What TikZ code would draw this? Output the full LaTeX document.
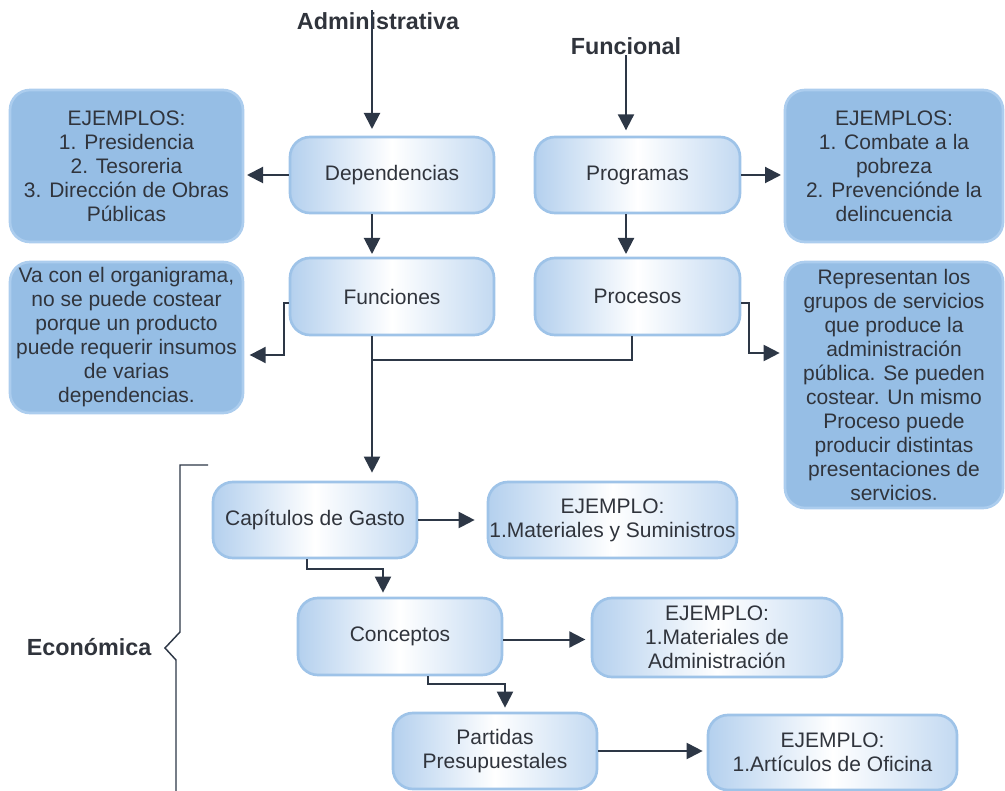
\documentclass[tikz,border=0pt]{standalone}
\usepackage{fontspec}
\setmainfont{Liberation Sans}
\usetikzlibrary{arrows.meta}

\definecolor{txtgray}{RGB}{48,52,60}
\definecolor{arrgray}{RGB}{45,55,70}
\definecolor{boxedge}{RGB}{158,195,232}
\definecolor{boxtint}{RGB}{180,208,238}
\definecolor{darkfill}{RGB}{150,190,229}
\definecolor{darkedge}{RGB}{172,205,238}

\tikzset{every picture/.style={line width=0.75pt}}
\tikzset{
  lbox/.style={draw=boxedge, line width=2pt, rounded corners=15pt, left color=boxtint, right color=boxtint!80, middle color=white, text=txtgray, inner sep=0pt, align=center, font=\fontsize{15.75}{18}\selectfont},
  dbox/.style={draw=darkedge, line width=2pt, rounded corners=15pt, fill=darkfill, text=txtgray, inner sep=0pt, align=center, font=\fontsize{15.75}{18}\selectfont},
  head/.style={text=txtgray, inner sep=0pt, font=\bfseries\fontsize{17.5}{20}\selectfont},
  arr/.style={draw=arrgray, line width=1.5pt, -{Triangle[length=12pt,width=12pt]}, shorten >=2pt},
  conn/.style={draw=arrgray, line width=1.5pt},
  bracket/.style={draw=arrgray, line width=1.1pt}
}

\begin{document}
\begin{tikzpicture}[x=0.75pt,y=0.75pt,yscale=-1,xscale=1]
\useasboundingbox (0,0) rectangle (1005,791);

% Text Node
\draw (378,21) node [head] (admin) {Administrativa};
% Text Node
\draw (626,46) node [head] (func) {Funcional};
% Text Node
\draw (89,647) node [head] (eco) {Económica};

%Rounded Rect: Administrativa column
\draw (392,175) node [lbox, minimum width=153pt, minimum height=57pt] (dep) {Dependencias};
\draw (392,296.5) node [lbox, minimum width=153pt, minimum height=57.75pt] (fun) {Funciones};
%Rounded Rect: Funcional column
\draw (637.5,175) node [lbox, minimum width=153.75pt, minimum height=57pt] (prog) {Programas};
\draw (637.5,296.5) node [lbox, minimum width=153.75pt, minimum height=57.75pt] (proc) {Procesos};

%Rounded Rect: notes
\draw (126.5,166) node [dbox, minimum width=174.75pt, minimum height=114pt] (ejadm) {EJEMPLOS:\\1. Presidencia\\2. Tesoreria\\3. Dirección de Obras\\Públicas};
\draw (126.5,337.5) node [dbox, minimum width=174.75pt, minimum height=113.25pt] (vacon) {Va con el organigrama,\\no se puede costear\\porque un producto\\puede requerir insumos\\de varias\\dependencias.};
\draw (894,166) node [dbox, minimum width=163.5pt, minimum height=114pt] (ejfun) {EJEMPLOS:\\1. Combate a la\\pobreza\\2. Prevenciónde la\\delincuencia};
\draw (894,385) node [dbox, minimum width=163.5pt, minimum height=184.5pt] (repr) {Representan los\\grupos de servicios\\que produce la\\administración\\pública. Se pueden\\costear. Un mismo\\Proceso puede\\producir distintas\\presentaciones de\\servicios.};

%Rounded Rect: Economica column
\draw (315,520) node [lbox, minimum width=153pt, minimum height=57pt] (cap) {Capítulos de Gasto};
\draw (612.5,520) node [lbox, minimum width=186.75pt, minimum height=57pt] (ejcap) {EJEMPLO:\\1.Materiales y Suministros};
\draw (400,636.5) node [lbox, minimum width=153pt, minimum height=57.75pt] (conc) {Conceptos};
\draw (717,637.5) node [lbox, minimum width=187.5pt, minimum height=59.25pt] (ejcon) {EJEMPLO:\\1.Materiales de\\Administración};
\draw (495,751) node [lbox, minimum width=153pt, minimum height=57pt] (part) {Partidas\\Presupuestales};
\draw (832.5,752.5) node [lbox, minimum width=186.75pt, minimum height=56.25pt] (ejpar) {EJEMPLO:\\1.Artículos de Oficina};

\coordinate (admtop) at (372,10);
\coordinate (jn) at (372,360);

%Straight Lines
\draw [arr, shorten >=5pt] (admtop) -- (admtop |- dep.north);
\draw [arr, shorten >=4pt] (func.south) -- (func.south |- prog.north);
\draw [arr] (dep.south -| admtop) -- (fun.north -| admtop);
\draw [arr] (prog.south -| func) -- (proc.north -| func);
\draw [arr] (dep.west) -- (dep.west -| ejadm.east);
\draw [arr] (prog.east) -- (prog.east -| ejfun.west);
\draw [arr, shorten >=4pt] (fun.west) ++(0,6) -- ++(-5,0) |- (vacon.east |- 0,355);
\draw [arr, shorten >=3pt] (proc.east) ++(0,6) -- ++(8,0) |- (repr.west |- 0,353);
\draw [conn] (proc.south -| 632,0) |- (jn);
\draw [arr, shorten >=6pt] (fun.south -| jn) -- (jn) -- (jn |- cap.north);

\draw [arr, shorten >=9pt] (cap.east) -- (cap.east -| ejcap.west);
\draw [arr, shorten >=3pt] (cap.south -| 307,0) -- ++(0,10) -| (conc.north -| 383,0);
\draw [arr, shorten >=4pt] (conc.east) ++(0,3) -- (ejcon.west |- 0,639.5);
\draw [arr, shorten >=3pt] (conc.south -| 428,0) -- ++(0,8) -| (part.north -| 505,0);
\draw [arr, shorten >=3pt] (part.east) -- (part.east -| ejpar.west);

%Bracket
\draw [bracket] (208,465) -- (180,465) -- (180,632) -- (165,648) -- (176,660) -- (176,791);

\end{tikzpicture}
\end{document}
